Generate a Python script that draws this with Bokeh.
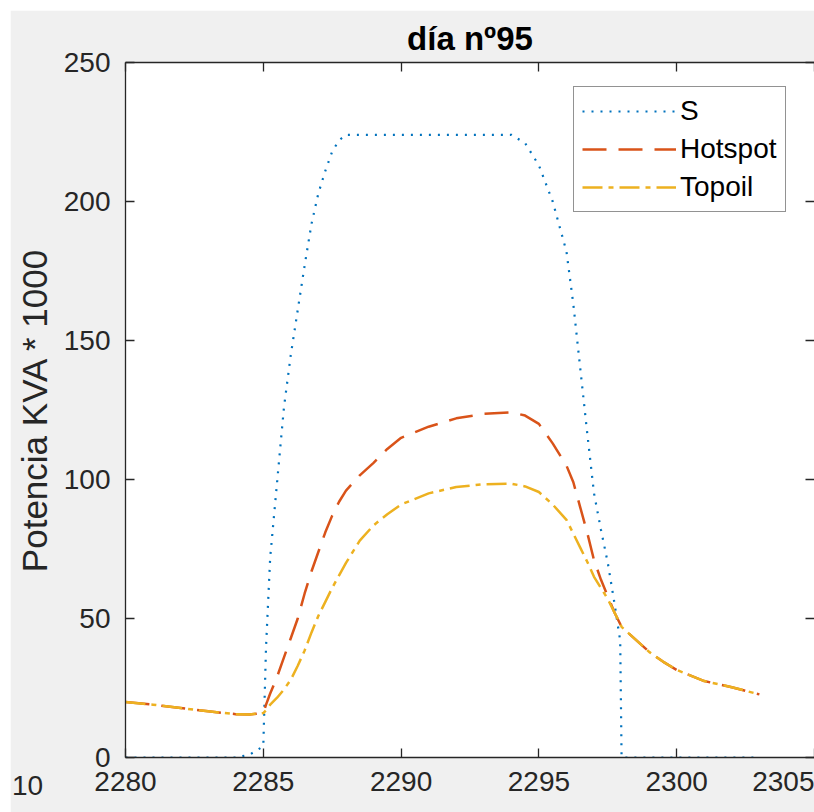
from bokeh.plotting import figure
from bokeh.models import (Range1d, LinearAxis, FixedTicker, Legend, LegendItem, Label,
                          CustomLabelingPolicy)
from bokeh.embed import file_html
from bokeh.resources import INLINE

# Hours (day 95 starts at hour 2280)
time_h = [2280, 2281, 2282, 2283, 2284, 2284.5, 2285, 2285.1, 2285.25, 2285.5, 2285.75,
          2286, 2286.25, 2286.5, 2286.75, 2287, 2287.25, 2287.5, 2287.75, 2288, 2288.5,
          2289, 2289.5, 2290, 2291, 2292, 2293, 2294, 2294.5, 2295, 2295.5, 2296,
          2296.25, 2296.5, 2296.75, 2297, 2297.25, 2297.5, 2297.75, 2297.95, 2298,
          2298.5, 2299, 2299.5, 2300, 2301, 2302, 2303]

s_kva = [0, 0, 0, 0, 0, 1, 4, 40, 72, 99, 126,
         145, 161, 177, 192, 203, 211, 218, 222, 224, 224,
         224, 224, 224, 224, 224, 224, 224, 221, 213, 200, 182,
         163, 140, 117, 95, 82, 70, 55, 42, 0,
         0, 0, 0, 0, 0, 0, 0]

hotspot = [20, 19, 17.8, 16.6, 15.6, 15.5, 16, 19, 23, 29, 36,
           43, 50, 59, 67, 74, 81, 87, 92, 96, 101.5,
           106, 111, 115, 119, 122, 123.6, 124.2, 123, 120, 113, 105,
           99, 90, 81, 71, 64, 58, 52, 48, 47,
           42.5, 38, 34.5, 31.5, 27.5, 25.3, 22.7]

topoil = [20, 19, 17.8, 16.6, 15.6, 15.5, 16, 17, 19, 21.5, 24.5,
          28, 33, 38.5, 45, 51, 56, 61, 65.5, 70, 78,
          83.5, 87.5, 91, 95, 97.3, 98.3, 98.5, 97.5, 95.5, 91, 85.5,
          80.5, 75.5, 70.5, 65, 61, 57, 52, 48.2, 47,
          42.5, 38, 34.5, 31.5, 27.5, 25.3, 22.7]

x_ticks = [2280, 2285, 2290, 2295, 2300, 2305]
y_ticks = [0, 50, 100, 150, 200, 250]
series_names = ["S", "Hotspot", "Topoil"]
stray_tick_text = "10"

FONT = "Liberation Sans"
AX = "#262626"

p = figure(width=804, height=802, output_backend="svg", toolbar_location=None,
           x_range=Range1d(2280, 2305), y_range=Range1d(0, 250),
           min_border_left=115, min_border_right=0, min_border_top=52, min_border_bottom=47,
           background_fill_color="white", border_fill_color="#f0f0f0",
           title="día nº95")
p.margin = (10, 0, 0, 10)
p.grid.visible = False
p.outline_line_color = None

p.title.text_font = FONT
p.title.text_font_size = "33px"
p.title.text_font_style = "bold"
p.title.text_color = "black"
p.title.align = "center"
p.title.standoff = 12

xa = p.xaxis[0]
xa.ticker = FixedTicker(ticks=x_ticks)
ya = p.yaxis[0]
ya.ticker = FixedTicker(ticks=y_ticks)
for ax in (xa, ya):
    ax.major_tick_in = 9
    ax.major_tick_out = 0
    ax.minor_tick_line_color = None
    ax.major_tick_line_color = AX
    ax.major_tick_line_width = 1.3
    ax.axis_line_color = AX
    ax.axis_line_width = 1.3
    ax.major_label_text_font = FONT
    ax.major_label_text_color = AX
    ax.major_label_text_font_size = "28px"
xa.major_label_standoff = 14
ya.major_label_standoff = 15
ya.axis_label = "Potencia KVA * 1000"
ya.axis_label_text_font = FONT
ya.axis_label_text_font_size = "35px"
ya.axis_label_text_font_style = "normal"
ya.axis_label_text_color = AX
ya.axis_label_standoff = 7

top_ax = LinearAxis(ticker=FixedTicker(ticks=x_ticks),
                    major_label_policy=CustomLabelingPolicy(code="return new Set()"))
right_ax = LinearAxis(ticker=FixedTicker(ticks=y_ticks),
                      major_label_policy=CustomLabelingPolicy(code="return new Set()"))
for ax in (top_ax, right_ax):
    ax.major_tick_in = 9
    ax.major_tick_out = 0
    ax.minor_tick_line_color = None
    ax.major_tick_line_color = AX
    ax.major_tick_line_width = 1.3
    ax.axis_line_color = AX
    ax.axis_line_width = 1.3
    ax.major_label_text_font_size = "0px"
    ax.major_label_standoff = 0
right_ax.axis_line_color = None
p.add_layout(top_ax, "above")
p.add_layout(right_ax, "right")

r_s = p.line(time_h, s_kva, line_color="#0072BD", line_width=2.2, line_dash="2 7")
r_h = p.line(time_h, hotspot, line_color="#D95319", line_width=2.5, line_dash="24 12")
r_t = p.line(time_h, topoil, line_color="#EDB120", line_width=2.5, line_dash="20 6 5 6")

legend = Legend(items=[LegendItem(label=series_names[0], renderers=[r_s]),
                       LegendItem(label=series_names[1], renderers=[r_h]),
                       LegendItem(label=series_names[2], renderers=[r_t])],
                location=(448, 545))
legend.label_text_font = FONT
legend.label_text_font_size = "28px"
legend.label_text_color = "black"
legend.glyph_width = 94
legend.glyph_height = 30
legend.label_height = 30
legend.label_standoff = 4
legend.spacing = 6
legend.padding = 8
legend.margin = 0
legend.border_line_color = AX
legend.border_line_width = 1.5
legend.background_fill_color = "white"
legend.background_fill_alpha = 1.0
p.add_layout(legend, "center")

# stray tick label of the neighbouring panel, left of the axes
stray = Label(x=17, y=775, x_units="canvas", y_units="canvas", text=stray_tick_text,
              text_font=FONT, text_font_size="28px", text_color=AX,
              text_align="center", text_baseline="middle")
p.add_layout(stray, "below")

open("out.html", "w").write(file_html(p, INLINE))
